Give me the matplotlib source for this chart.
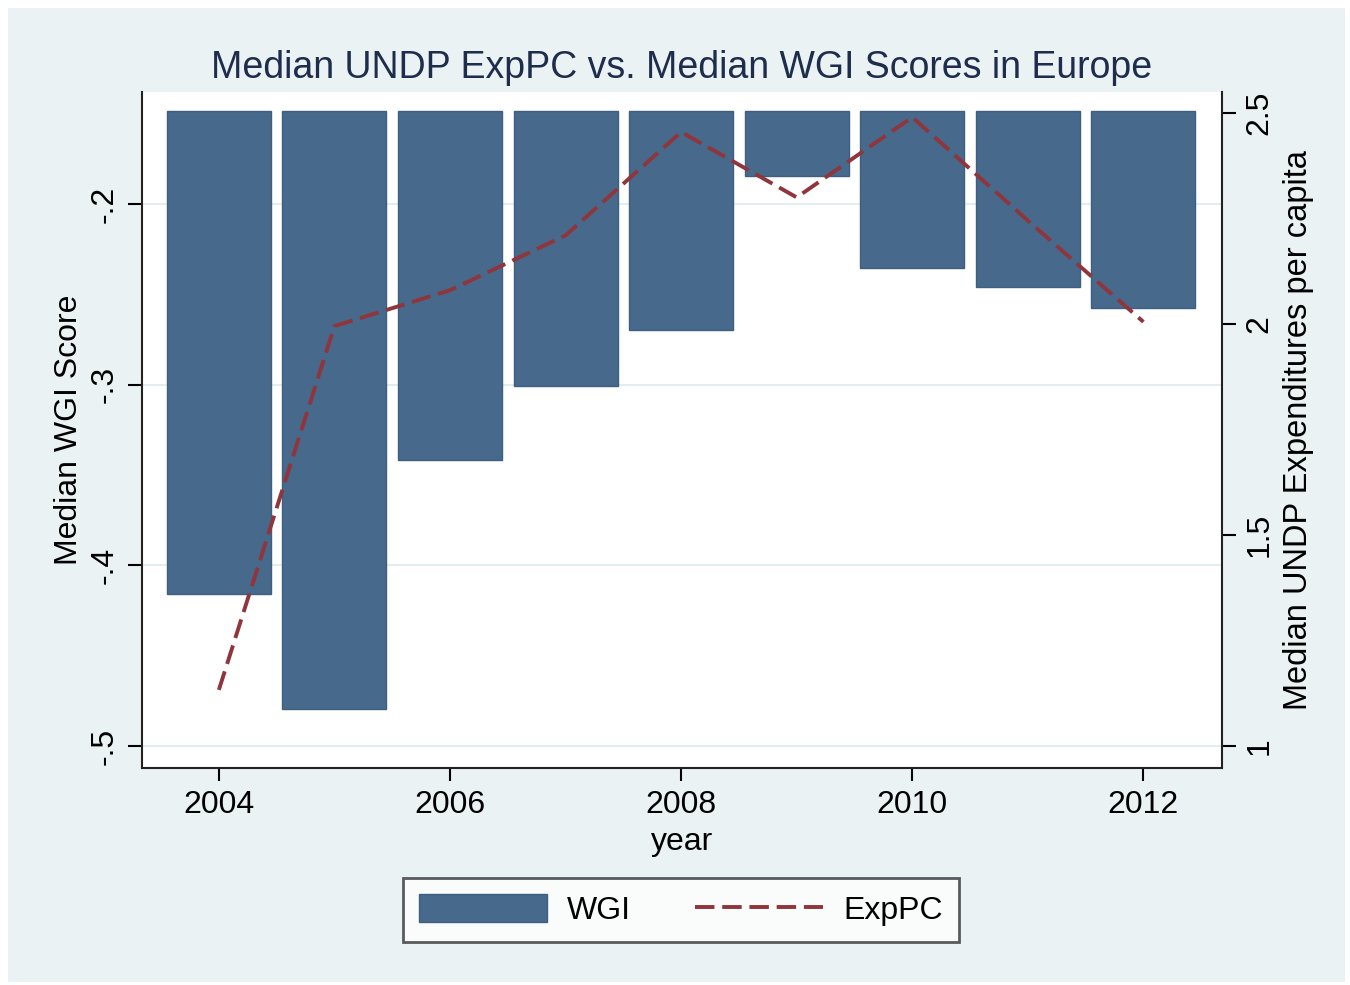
import matplotlib
matplotlib.use("Agg")
import matplotlib.pyplot as plt
from matplotlib.patches import Rectangle, Patch
from matplotlib.lines import Line2D

years = [2004, 2005, 2006, 2007, 2008, 2009, 2010, 2011, 2012]
wgi = [-0.416, -0.4795, -0.3417, -0.3007, -0.2697, -0.1845, -0.2354, -0.2459, -0.2576]
exppc = [1.133, 1.995, 2.08, 2.21, 2.455, 2.30, 2.49, 2.245, 2.005]
left_ticks = [-0.5, -0.4, -0.3, -0.2]
left_labels = ["-.5", "-.4", "-.3", "-.2"]
right_ticks = [1, 1.5, 2, 2.5]
right_labels = ["1", "1.5", "2", "2.5"]
x_ticks = [2004, 2006, 2008, 2010, 2012]

plt.rcParams['font.family'] = ['Liberation Sans', 'DejaVu Sans']

BG = "#eaf2f3"
BAR = "#46698c"
LINE = "#90353b"
BASE = -0.1485
DASH = (0, (5, 2))
FS = 23

fig = plt.figure(figsize=(13.5, 9.85), dpi=100)
fig.patch.set_facecolor("white")
fig.patches.append(Rectangle((8/1350, 3/985), 1337/1350, 974/985, transform=fig.transFigure,
                             facecolor=BG, edgecolor="none", zorder=-10))

ax = fig.add_axes([142/1350, 1-768/985, 1080/1350, 676/985])
ax.set_facecolor("white")
ax.set_xlim(2003.335, 2012.68)
ax.set_ylim(-0.5122, -0.138)
heights = [w - BASE for w in wgi]
ax.bar(years, heights, bottom=BASE, width=0.9, color=BAR, edgecolor="#3d5f80", linewidth=1, zorder=3)
ax.set_yticks(left_ticks)
ax.set_yticklabels(left_labels, rotation=90, va="center", fontsize=FS)
ax.set_xticks(x_ticks)
ax.set_xticklabels([str(x) for x in x_ticks], fontsize=FS)
ax.grid(axis="y", color="#e3ecee", linewidth=1.5, zorder=0)
ax.tick_params(axis="y", length=10, width=1.5, pad=6)
ax.tick_params(axis="x", length=9, width=1.5, pad=7)
for s in ["top", "right"]:
    ax.spines[s].set_visible(False)
for s in ["left", "bottom"]:
    ax.spines[s].set_linewidth(1.5)
    ax.spines[s].set_color("#222222")
ax.set_ylabel("Median WGI Score", fontsize=FS, labelpad=4)
ax.set_xlabel("year", fontsize=FS, labelpad=5)
ax.set_title("Median UNDP ExpPC vs. Median WGI Scores in Europe", fontsize=27, color="#1f2d4d", pad=10)

ax2 = ax.twinx()
ax2.set_ylim(1 - 22/422, 1 + 654/422)
ax2.plot(years, exppc, color=LINE, linestyle=DASH, linewidth=2.8, zorder=5)
ax2.set_yticks(right_ticks)
ax2.set_yticklabels(right_labels, rotation=90, va="center", fontsize=FS)
ax2.tick_params(axis="y", length=10, width=1.5, pad=6)
for s in ["top", "left", "bottom"]:
    ax2.spines[s].set_visible(False)
ax2.spines["right"].set_linewidth(1.5)
ax2.spines["right"].set_color("#222222")
ax2.set_ylabel("Median UNDP Expenditures per capita", fontsize=23.5, labelpad=6)

handles = [Patch(facecolor=BAR, edgecolor="#3d5f80"),
           Line2D([0], [0], color=LINE, linestyle=DASH, linewidth=2.8)]
leg = fig.legend(handles, ["WGI", "ExpPC"], loc="center", bbox_to_anchor=(681/1350, 1-910/985),
                 ncol=2, fontsize=FS, frameon=True, fancybox=False, handlelength=4.0, handleheight=1.0,
                 columnspacing=2.0, borderpad=0.5, handletextpad=0.63)
leg.get_frame().set_edgecolor("#333333")
leg.get_frame().set_linewidth(2)

fig.savefig("out.png", dpi=100, facecolor=fig.get_facecolor())
